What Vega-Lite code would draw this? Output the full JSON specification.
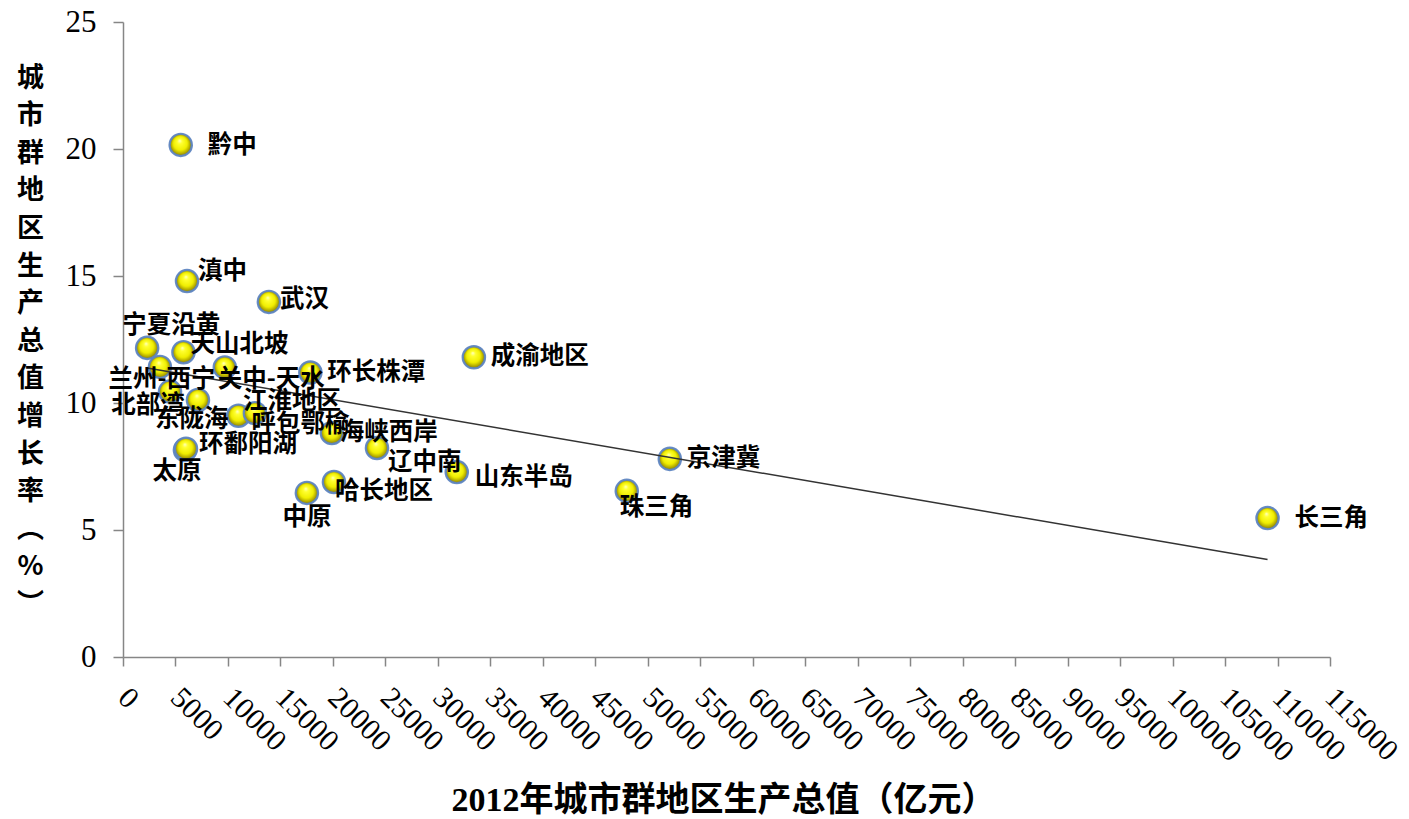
{
  "$schema": "https://vega.github.io/schema/vega-lite/v6.json",
  "width": 1207,
  "height": 635,
  "autosize": {"type": "none"},
  "padding": {"left": 123, "top": 22, "right": 79, "bottom": 162},
  "background": "white",
  "data": {"values": [
    {"name": "黔中", "gdp": 5500, "growth": 20.16},
    {"name": "滇中", "gdp": 6100, "growth": 14.8},
    {"name": "武汉", "gdp": 13900, "growth": 13.98},
    {"name": "宁夏沿黄", "gdp": 2300, "growth": 12.17},
    {"name": "天山北坡", "gdp": 5760, "growth": 12.0},
    {"name": "兰州-西宁", "gdp": 3520, "growth": 11.42},
    {"name": "关中-天水", "gdp": 9700, "growth": 11.4},
    {"name": "环长株潭", "gdp": 17850, "growth": 11.2},
    {"name": "成渝地区", "gdp": 33430, "growth": 11.8},
    {"name": "北部湾", "gdp": 4480, "growth": 10.45},
    {"name": "东陇海", "gdp": 7140, "growth": 10.12},
    {"name": "呼包鄂榆", "gdp": 11000, "growth": 9.5},
    {"name": "江淮地区", "gdp": 12570, "growth": 9.6},
    {"name": "海峡西岸", "gdp": 19900, "growth": 8.82},
    {"name": "太原", "gdp": 5900, "growth": 8.15},
    {"name": "环鄱阳湖", "gdp": 6000, "growth": 8.2},
    {"name": "辽中南", "gdp": 24200, "growth": 8.23},
    {"name": "山东半岛", "gdp": 31800, "growth": 7.28},
    {"name": "哈长地区", "gdp": 20100, "growth": 6.89},
    {"name": "中原", "gdp": 17520, "growth": 6.46},
    {"name": "京津冀", "gdp": 52100, "growth": 7.8},
    {"name": "珠三角", "gdp": 48000, "growth": 6.54},
    {"name": "长三角", "gdp": 109050, "growth": 5.47}
  ]},
  "encoding": {
    "x": {
      "field": "gdp", "type": "quantitative",
      "scale": {"domain": [0, 115000], "nice": false, "zero": true},
      "axis": {
        "title": "2012年城市群地区生产总值（亿元）",
        "values": [0,5000,10000,15000,20000,25000,30000,35000,40000,45000,50000,55000,60000,65000,70000,75000,80000,85000,90000,95000,100000,105000,110000,115000],
        "format": "d",
        "grid": false,
        "labelAngle": 45,
        "labelAlign": "left",
        "labelBaseline": "top",
        "labelPadding": 16,
        "labelOffset": 10,
        "labelFont": "Liberation Serif",
        "labelFontSize": 30,
        "labelColor": "#000",
        "labelOverlap": false,
        "labelFlush": false,
        "labelBound": false,
        "tickSize": 9,
        "tickColor": "#868686",
        "tickWidth": 1.5,
        "domainColor": "#868686",
        "domainWidth": 1.5,
        "titleFont": "Liberation Serif, Noto Sans CJK SC",
        "titleFontSize": 34,
        "titleFontWeight": "bold",
        "titleColor": "#000",
        "titleX": 600,
        "titleY": 143,
        "titleBaseline": "middle",
        "titleAlign": "center"
      }
    },
    "y": {
      "field": "growth", "type": "quantitative",
      "scale": {"domain": [0, 25], "nice": false},
      "axis": {
        "title": ["城","市","群","地","区","生","产","总","值","增","长","率","︵","%","︶"],
        "values": [0, 5, 10, 15, 20, 25],
        "grid": false,
        "labelFont": "Liberation Serif",
        "labelFontSize": 31,
        "labelColor": "#000",
        "labelPadding": 17,
        "labelFlush": false,
        "labelOverlap": false,
        "tickSize": 10,
        "tickColor": "#868686",
        "tickWidth": 1.5,
        "domainColor": "#868686",
        "domainWidth": 1.5,
        "titleFont": "Noto Sans CJK SC",
        "titleFontSize": 27,
        "titleFontWeight": "bold",
        "titleColor": "#000",
        "titleAngle": 0,
        "titleLineHeight": 37.6,
        "titleX": -93,
        "titleY": 56,
        "titleAlign": "center",
        "titleBaseline": "middle"
      }
    }
  },
  "layer": [
    {
      "mark": {
        "type": "point", "shape": "circle", "filled": true, "size": 500, "opacity": 1,
        "fill": {"gradient": "radial", "x1": 0.45, "y1": 0.3, "r1": 0, "x2": 0.5, "y2": 0.5, "r2": 0.5,
          "stops": [
            {"offset": 0, "color": "#ffffd0"},
            {"offset": 0.22, "color": "#ffff30"},
            {"offset": 0.62, "color": "#f0ee00"},
            {"offset": 0.88, "color": "#a89e00"},
            {"offset": 1, "color": "#6f6c40"}
          ]},
        "stroke": "#5f86c2", "strokeWidth": 2.2, "strokeOpacity": 0.95
      }
    },
    {
      "transform": [{"regression": "growth", "on": "gdp"}],
      "mark": {"type": "line", "color": "#333333", "strokeWidth": 1.5}
    },
    {"transform": [{"filter": {"field": "name", "oneOf": ["黔中", "长三角"]}}],
     "mark": {"type": "text", "align": "left", "dx": 27, "dy": 1}, "encoding": {"text": {"field": "name"}}},
    {"transform": [{"filter": {"field": "name", "oneOf": ["环长株潭", "成渝地区", "京津冀"]}}],
     "mark": {"type": "text", "align": "left", "dx": 17, "dy": 0}, "encoding": {"text": {"field": "name"}}},
    {"transform": [{"filter": {"field": "name", "equal": "山东半岛"}}],
     "mark": {"type": "text", "align": "left", "dx": 18, "dy": 6}, "encoding": {"text": {"field": "name"}}},
    {"transform": [{"filter": {"field": "name", "equal": "滇中"}}],
     "mark": {"type": "text", "align": "left", "dx": 11, "dy": -9}, "encoding": {"text": {"field": "name"}}},
    {"transform": [{"filter": {"field": "name", "equal": "武汉"}}],
     "mark": {"type": "text", "align": "left", "dx": 11, "dy": -2}, "encoding": {"text": {"field": "name"}}},
    {"transform": [{"filter": {"field": "name", "equal": "宁夏沿黄"}}],
     "mark": {"type": "text", "align": "center", "dx": 24, "dy": -22}, "encoding": {"text": {"field": "name"}}},
    {"transform": [{"filter": {"field": "name", "equal": "天山北坡"}}],
     "mark": {"type": "text", "align": "left", "dx": 7, "dy": -7}, "encoding": {"text": {"field": "name"}}},
    {"transform": [{"filter": {"field": "name", "equal": "兰州-西宁"}}],
     "mark": {"type": "text", "align": "center", "dx": 2, "dy": 13}, "encoding": {"text": {"field": "name"}}},
    {"transform": [{"filter": {"field": "name", "equal": "关中-天水"}}],
     "mark": {"type": "text", "align": "left", "dx": -7, "dy": 13}, "encoding": {"text": {"field": "name"}}},
    {"transform": [{"filter": {"field": "name", "equal": "北部湾"}}],
     "mark": {"type": "text", "align": "center", "dx": -22, "dy": 14}, "encoding": {"text": {"field": "name"}}},
    {"transform": [{"filter": {"field": "name", "equal": "东陇海"}}],
     "mark": {"type": "text", "align": "left", "dx": -43, "dy": 20}, "encoding": {"text": {"field": "name"}}},
    {"transform": [{"filter": {"field": "name", "equal": "江淮地区"}}],
     "mark": {"type": "text", "align": "left", "dx": -12, "dy": -11}, "encoding": {"text": {"field": "name"}}},
    {"transform": [{"filter": {"field": "name", "equal": "呼包鄂榆"}}],
     "mark": {"type": "text", "align": "left", "dx": 13, "dy": 9}, "encoding": {"text": {"field": "name"}}},
    {"transform": [{"filter": {"field": "name", "equal": "海峡西岸"}}],
     "mark": {"type": "text", "align": "left", "dx": 8, "dy": 0}, "encoding": {"text": {"field": "name"}}},
    {"transform": [{"filter": {"field": "name", "equal": "环鄱阳湖"}}],
     "mark": {"type": "text", "align": "left", "dx": 13, "dy": -4}, "encoding": {"text": {"field": "name"}}},
    {"transform": [{"filter": {"field": "name", "equal": "太原"}}],
     "mark": {"type": "text", "align": "center", "dx": -8, "dy": 22}, "encoding": {"text": {"field": "name"}}},
    {"transform": [{"filter": {"field": "name", "equal": "辽中南"}}],
     "mark": {"type": "text", "align": "left", "dx": 11, "dy": 15}, "encoding": {"text": {"field": "name"}}},
    {"transform": [{"filter": {"field": "name", "equal": "哈长地区"}}],
     "mark": {"type": "text", "align": "left", "dx": 1, "dy": 10}, "encoding": {"text": {"field": "name"}}},
    {"transform": [{"filter": {"field": "name", "equal": "中原"}}],
     "mark": {"type": "text", "align": "center", "dx": 0, "dy": 25}, "encoding": {"text": {"field": "name"}}},
    {"transform": [{"filter": {"field": "name", "equal": "珠三角"}}],
     "mark": {"type": "text", "align": "left", "dx": -7, "dy": 17}, "encoding": {"text": {"field": "name"}}}
  ],
  "config": {
    "view": {"stroke": null},
    "text": {"font": "Noto Sans CJK SC", "fontSize": 24.5, "fontWeight": "bold", "color": "#000", "baseline": "middle"}
  }
}
